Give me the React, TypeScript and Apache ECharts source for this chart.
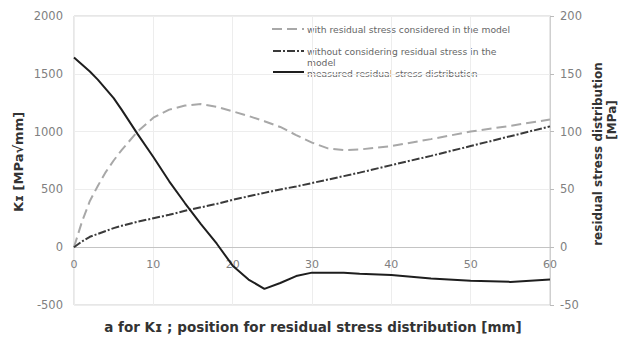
import React, { useEffect, useRef } from "react";
import * as echarts from "echarts";

const positions = [0, 1, 2, 3, 4, 5, 6, 8, 10, 12, 14, 16, 18, 20, 22, 24, 26, 28, 30, 32, 34, 36, 40, 45, 50, 55, 60];
const withResidual = [0, 220, 400, 530, 650, 750, 840, 1000, 1120, 1190, 1225, 1238, 1215, 1175, 1135, 1090, 1040, 970, 905, 855, 840, 845, 875, 935, 1000, 1050, 1105];
const withoutResidual = [0, 50, 90, 115, 140, 165, 185, 220, 250, 280, 315, 345, 375, 410, 440, 470, 500, 525, 555, 585, 615, 645, 710, 790, 875, 960, 1045];
const measuredStress = [164, 158, 152, 145, 137, 129, 119, 98, 78, 57, 38, 20, 3, -16, -28, -36, -31, -25, -22, -22, -22, -23, -24, -27, -29, -30, -28];

const legendNames = [
  "with residual stress considered in the model",
  "without considering residual stress in the\nmodel",
  "measured residual stress distribution",
];

const FONT = "DejaVu Sans";

export default function App() {
  const ref = useRef<HTMLDivElement>(null);
  useEffect(() => {
    if (!ref.current) return;
    const chart = echarts.init(ref.current, null, { renderer: "svg" });
    const pair = (vals: number[]) => positions.map((p, i) => [p, vals[i]]);
    const plain = (v: number) => String(v);
    chart.setOption({
      animation: false,
      backgroundColor: "#ffffff",
      textStyle: { fontFamily: FONT },
      grid: { left: 74, right: 77, top: 16, bottom: 38, show: true, borderColor: "#cfcfcf", borderWidth: 1 },
      xAxis: {
        type: "value",
        min: 0,
        max: 60,
        interval: 10,
        axisLine: { onZero: true, onZeroAxisIndex: 0, lineStyle: { color: "#c4c4c4", width: 1 } },
        axisTick: { show: false },
        axisLabel: { color: "#808080", fontSize: 11, margin: -46, fontFamily: FONT, formatter: plain },
        splitLine: { show: true, lineStyle: { color: "#ededed" } },
      },
      yAxis: [
        {
          type: "value",
          min: -500,
          max: 2000,
          interval: 500,
          axisLine: { show: false, onZero: false },
          axisTick: { show: false },
          axisLabel: { color: "#808080", fontSize: 11.5, margin: 11, fontFamily: FONT, formatter: plain },
          splitLine: { show: true, lineStyle: { color: "#ededed" } },
        },
        {
          type: "value",
          min: -50,
          max: 200,
          interval: 50,
          position: "right",
          axisLine: { show: true, onZero: false, lineStyle: { color: "#cfcfcf" } },
          axisTick: { show: true, length: 4, lineStyle: { color: "#bbb" } },
          axisLabel: { color: "#808080", fontSize: 11.5, margin: 10, fontFamily: FONT, formatter: plain },
          splitLine: { show: false },
        },
      ],
      series: [
        {
          name: legendNames[0],
          type: "line",
          data: pair(withResidual),
          showSymbol: false,
          lineStyle: { color: "#a8a8a8", width: 2, type: [10, 5] },
          z: 3,
        },
        {
          name: legendNames[1],
          type: "line",
          data: pair(withoutResidual),
          showSymbol: false,
          lineStyle: { color: "#3a3a3a", width: 2, type: [8, 2, 2, 2] },
          z: 3,
        },
        {
          name: legendNames[2],
          type: "line",
          yAxisIndex: 1,
          data: pair(measuredStress),
          showSymbol: false,
          lineStyle: { color: "#1e1e1e", width: 2 },
          z: 4,
        },
      ],
      graphic: [
        { type: "line", shape: { x1: 272, y1: 29, x2: 304, y2: 29 }, style: { stroke: "#a8a8a8", lineWidth: 2, lineDash: [10, 5] } },
        { type: "line", shape: { x1: 273, y1: 51, x2: 304, y2: 51 }, style: { stroke: "#3a3a3a", lineWidth: 2, lineDash: [8, 2, 2, 2] } },
        { type: "line", shape: { x1: 273, y1: 72, x2: 304, y2: 72 }, style: { stroke: "#1e1e1e", lineWidth: 2 } },
        { type: "text", x: 307, y: 29, style: { text: legendNames[0], font: `9.2px "${FONT}"`, fill: "#666", textVerticalAlign: "middle" } },
        { type: "text", x: 307, y: 51, style: { text: "without considering residual stress in the", font: `9.2px "${FONT}"`, fill: "#666", textVerticalAlign: "middle" } },
        { type: "text", x: 307, y: 62, style: { text: "model", font: `9.2px "${FONT}"`, fill: "#666", textVerticalAlign: "middle" } },
        { type: "text", x: 307, y: 73, style: { text: legendNames[2], font: `9.2px "${FONT}"`, fill: "#666", textVerticalAlign: "middle" } },
        {
          type: "text", x: 313, y: 327,
          style: { text: "a for Kɪ ; position for residual stress distribution [mm]", font: `bold 13.5px "${FONT}"`, fill: "#333", textAlign: "center", textVerticalAlign: "middle" },
        },
        {
          type: "text", x: 18, y: 162, rotation: Math.PI / 2,
          style: { text: "Kɪ [MPa√mm]", font: `bold 13px "${FONT}"`, fill: "#333", textAlign: "center", textVerticalAlign: "middle" },
        },
        {
          type: "text", x: 598, y: 154, rotation: Math.PI / 2,
          style: { text: "residual stress distribution", font: `bold 12px "${FONT}"`, fill: "#333", textAlign: "center", textVerticalAlign: "middle" },
        },
        {
          type: "text", x: 612, y: 120, rotation: Math.PI / 2,
          style: { text: "[MPa]", font: `bold 12px "${FONT}"`, fill: "#333", textAlign: "center", textVerticalAlign: "middle" },
        },
      ],
    });
    return () => chart.dispose();
  }, []);
  return <div ref={ref} style={{ width: 627, height: 343, margin: -8 }} />;
}
